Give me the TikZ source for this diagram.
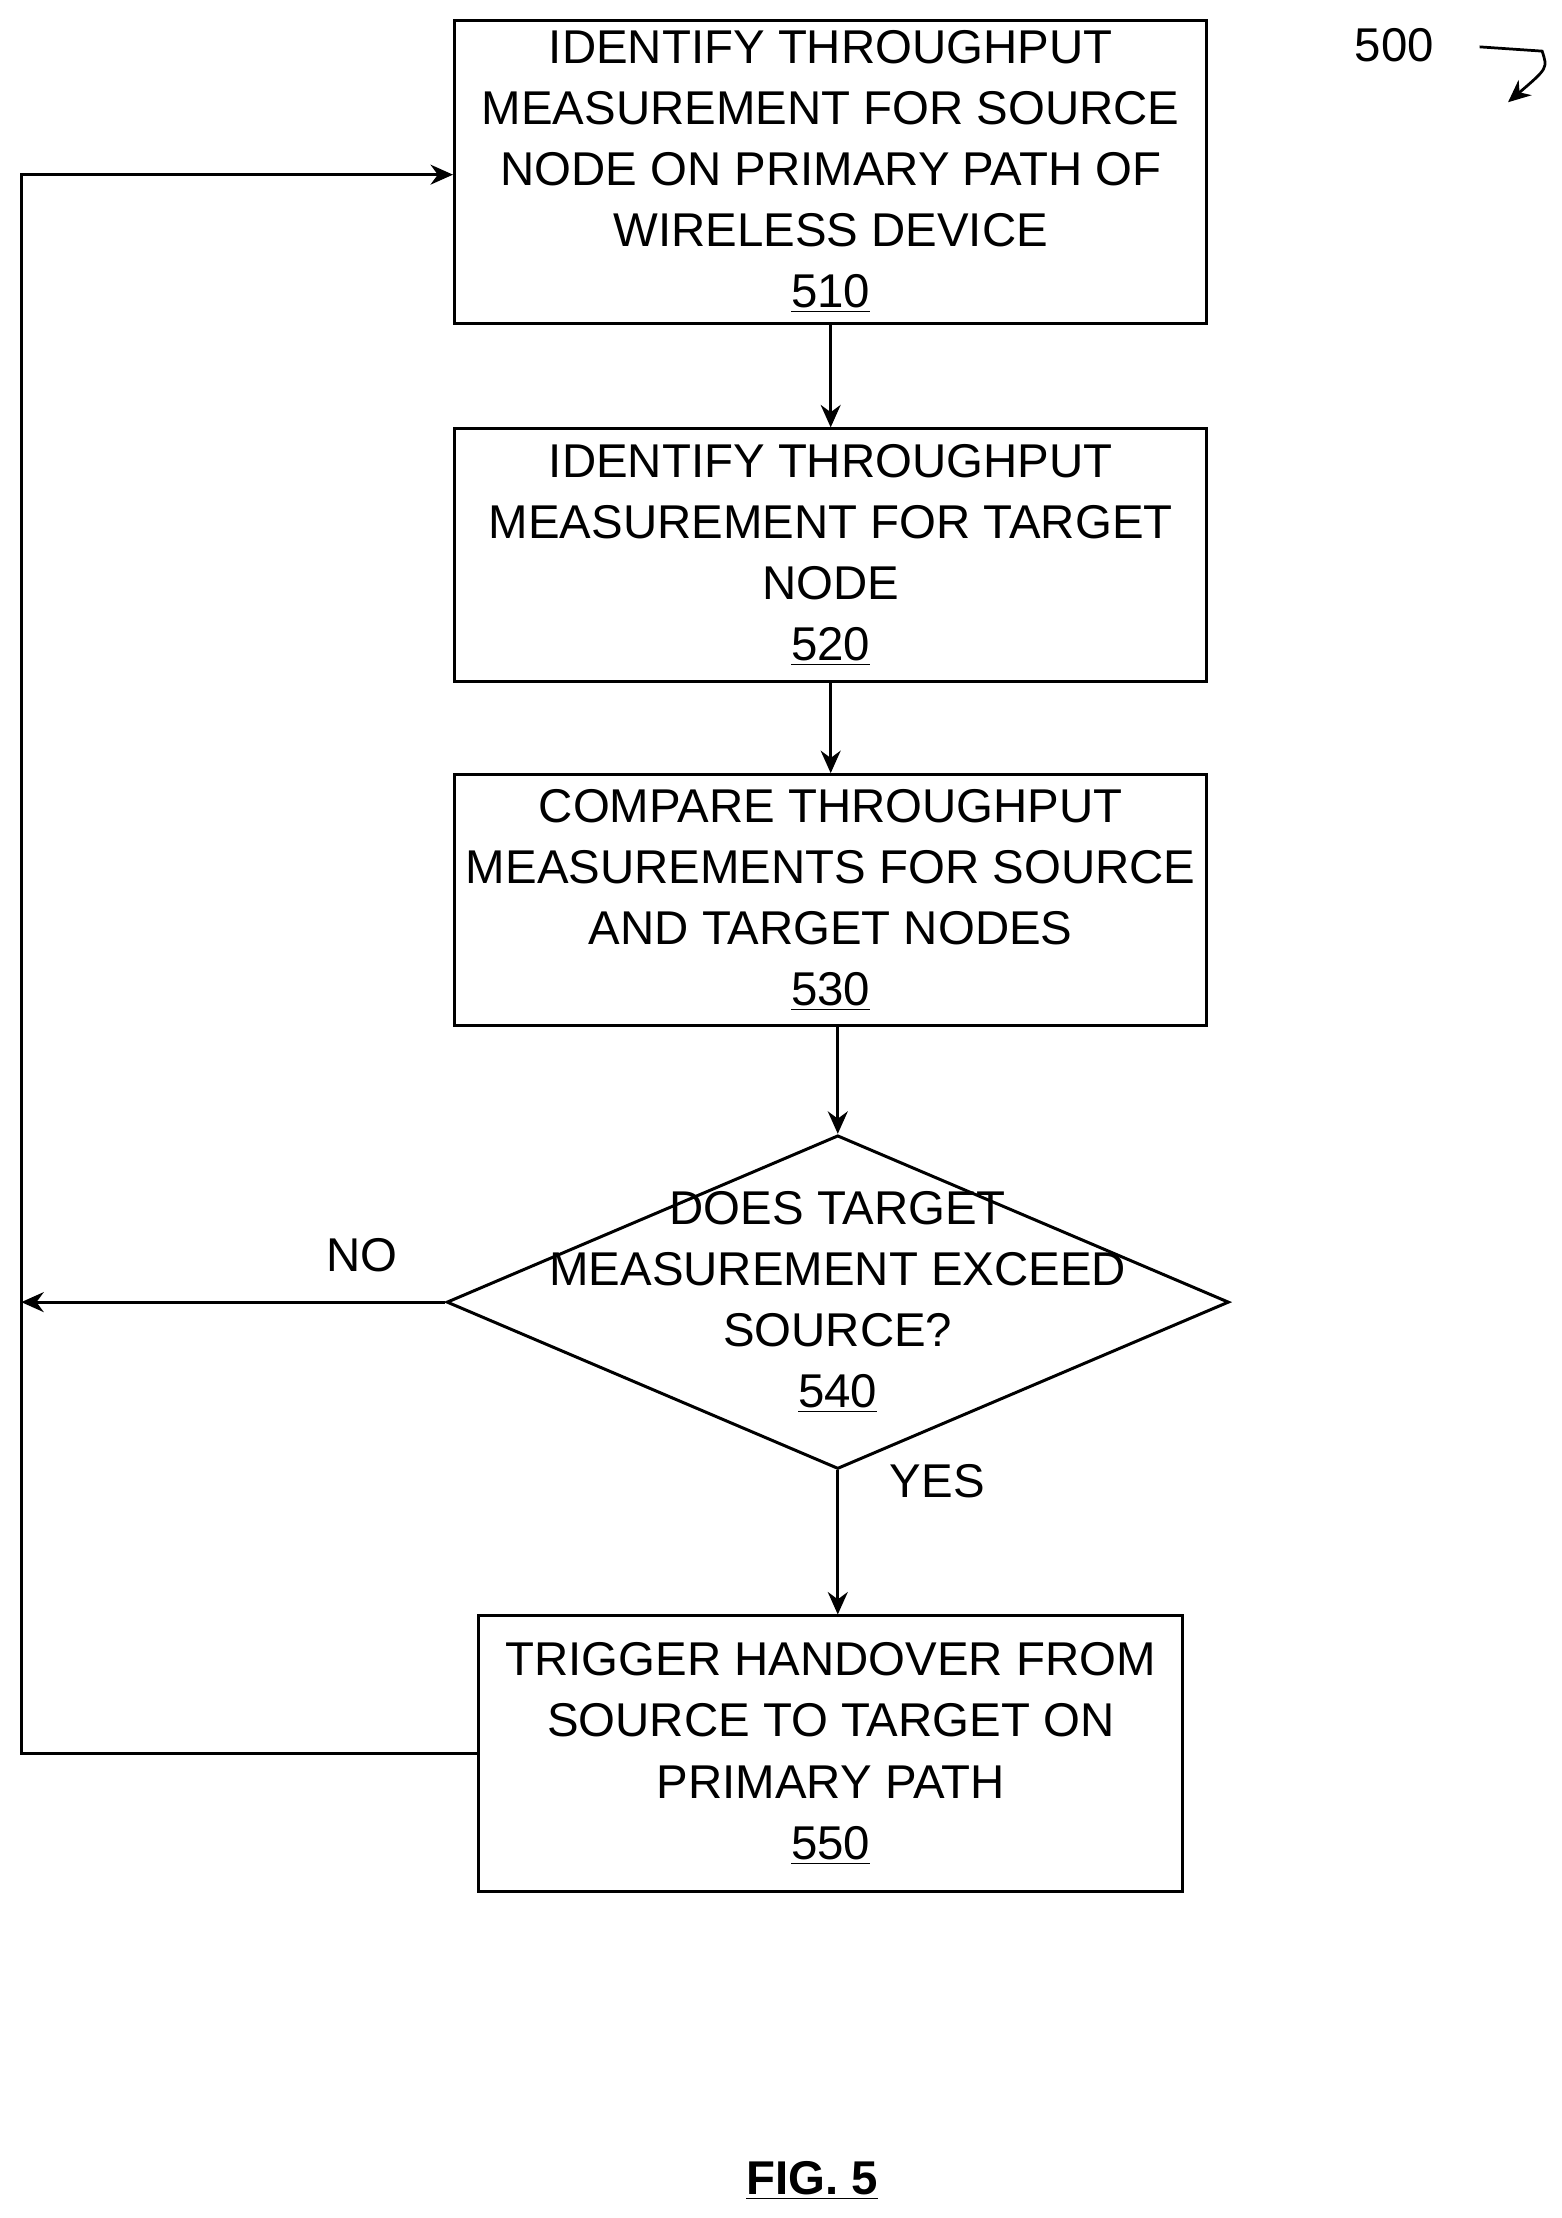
\documentclass[tikz,border=0pt]{standalone}
\usepackage{fontspec}
\setmainfont{Liberation Sans}
\usetikzlibrary{shapes.geometric,arrows.meta,calc}
\tikzset{
  procbox/.style={draw, rectangle, line width=1.2pt, align=center, inner sep=0pt},
  txt/.style={align=center, font=\fontsize{19}{24.5}\selectfont},
  flow/.style={-{Stealth[length=9pt,width=8pt]}, line width=1.1pt}
}
\begin{document}
\begin{tikzpicture}[x=0.02cm,y=-0.02cm]
\useasboundingbox (0,0) rectangle (1100,1562);

% Boxes
\node[procbox, minimum width=10.6cm, minimum height=4.26cm] (s510) at (585,121) {};
\node[txt] at (585,121) {IDENTIFY THROUGHPUT\\MEASUREMENT FOR SOURCE\\NODE ON PRIMARY PATH OF\\WIRELESS DEVICE\\\underline{510}};
\node[procbox, minimum width=10.6cm, minimum height=3.56cm] (s520) at (585,391) {};
\node[txt] at (585,391) {IDENTIFY THROUGHPUT\\MEASUREMENT FOR TARGET\\NODE\\\underline{520}};
\node[procbox, minimum width=10.6cm, minimum height=3.54cm] (s530) at (585,634) {};
\node[txt] at (585,634) {COMPARE THROUGHPUT\\MEASUREMENTS FOR SOURCE\\AND TARGET NODES\\\underline{530}};

% Decision
\node[draw, diamond, line width=1.2pt, inner sep=0pt, minimum width=11.02cm, minimum height=4.7cm] (d540) at (590,917) {};
\node[txt] at (590,917) {DOES TARGET\\MEASUREMENT EXCEED\\SOURCE?\\\underline{540}};

\node[procbox, minimum width=9.92cm, minimum height=3.88cm] (s550) at (585,1235) {};
\node[txt] at (585,1235) {TRIGGER HANDOVER FROM\\SOURCE TO TARGET ON\\PRIMARY PATH\\\underline{550}};

% Connectors
\coordinate (lft) at (15,917);
\draw[flow] (s510) -- (s520);
\draw[flow] (s520) -- (s530);
\draw[flow] (d540.north |- s530.south) -- (d540.north);
\draw[flow] (d540.south) -- (d540.south |- s550.north);
\draw[flow] (d540.west) -- (lft);
\draw[flow] (s550.west) -- (15,1235) -- (15,123) -- (s510.west |- 0,123);

\node[txt] (no) at (255,884) {NO};
\node[txt] (yes) at (660,1043) {YES};

% Figure reference
\node[txt] (ref) at (982,32) {500};
\draw[-{Stealth[length=9pt,width=8pt]}, line width=1.1pt] (1042,33) -- (1086,36) .. controls (1090,48) .. (1062,72);
\node[txt, font=\bfseries\fontsize{19}{24.5}\selectfont] (fig) at (572,1536) {\underline{FIG. 5}};
\end{tikzpicture}
\end{document}
